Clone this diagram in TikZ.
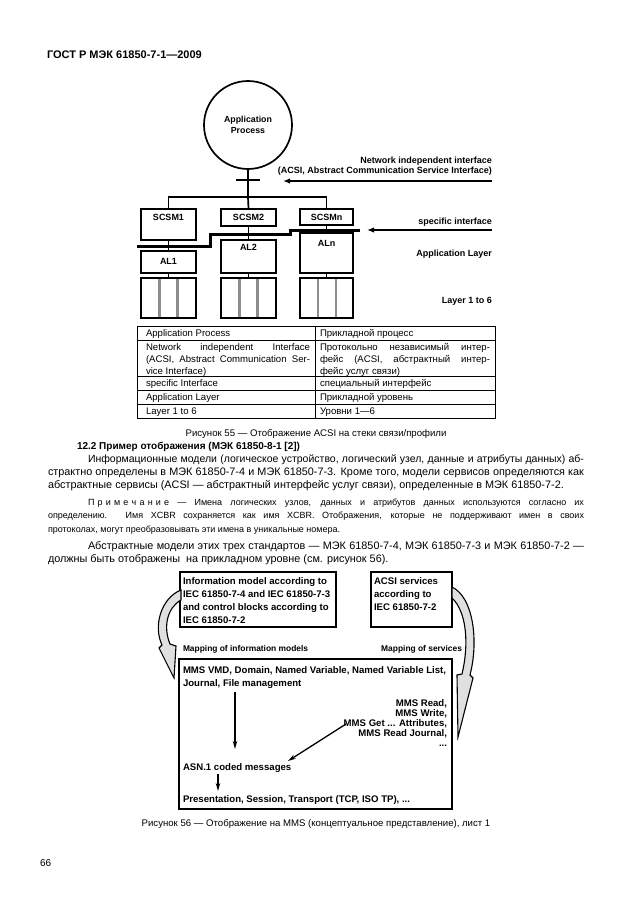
\documentclass[tikz,border=0pt]{standalone}
\usepackage{fontspec}
\setmainfont{Liberation Sans}
\usetikzlibrary{arrows.meta}
\newcommand{\fs}[2]{\fontsize{#1}{#2}\selectfont}
\begin{document}
\begin{tikzpicture}[x=1pt,y=-1pt,
  every node/.style={inner sep=0pt,outer sep=0pt},
  bx/.style={draw,line width=1.7pt,anchor=north west},
  lab/.style={font=\bfseries\fs{9}{10},anchor=base},
  rlab/.style={font=\bfseries\fs{9}{10},anchor=base east},
  ln/.style={line width=1.7pt},
  gl/.style={line width=2.6pt,draw=black!45},
  arr/.style={line width=1.6pt,-{Latex[length=7pt,width=5.5pt]}},
  body/.style={font=\fs{10.85}{13},anchor=base west},
  note/.style={font=\fs{9}{11},anchor=base west},
  tab/.style={font=\fs{9.6}{12},anchor=base west},
  tline/.style={line width=0.6pt},
  captxt/.style={font=\fs{9.6}{12},anchor=base},
  ft/.style={font=\bfseries\fs{9.6}{13},anchor=base west},
  ftr/.style={font=\bfseries\fs{9.6}{13},anchor=base east},
  arr2/.style={line width=1.3pt,-{Stealth[length=8pt,width=4.5pt]}},
  barrow/.style={draw,line width=1.1pt,fill=black!12}
]
\fill[white] (0,0) rectangle (630,913);
\useasboundingbox (0,0) rectangle (630,913);

% header
\node[anchor=base west,font=\bfseries\fs{11}{13}] (hdr) at (47,58.5) {ГОСТ Р МЭК 61850-7-1—2009};

% ---------- Figure 55 ----------
\node[circle,draw,line width=1.7pt,minimum size=88pt,font=\bfseries\fs{8.8}{10.5},align=center] (ap) at (248,125) {Application\\Process};
\coordinate (bus) at (248,197);
\draw[ln] (ap.south) -- (bus);
\draw[line width=2pt] (236,180) -- (260,180);

\node[bx,minimum width=55pt,minimum height=31pt] (s1) at (141,209) {};
\node[bx,minimum width=55pt,minimum height=17pt] (s2) at (221,209) {};
\node[bx,minimum width=53pt,minimum height=16pt] (sn) at (300,209) {};
\node[bx,minimum width=55pt,minimum height=22pt] (a1) at (141,251) {};
\node[bx,minimum width=55pt,minimum height=33pt] (a2) at (221,240) {};
\node[bx,minimum width=53pt,minimum height=40pt] (an) at (300,233) {};
\node[bx,minimum width=55pt,minimum height=40pt] (l1) at (141,278) {};
\node[bx,minimum width=55pt,minimum height=40pt] (l2) at (221,278) {};
\node[bx,minimum width=53pt,minimum height=40pt] (l3) at (300,278) {};

\draw[gl] (159.5,279) -- (159.5,317);
\draw[gl] (177.5,279) -- (177.5,317);
\draw[gl] (239.5,279) -- (239.5,317);
\draw[gl] (257.5,279) -- (257.5,317);
\draw[gl] (318,279) -- (318,317);
\draw[gl] (336,279) -- (336,317);

\draw[ln] (s1.north) |- (bus) -| (sn.north);
\draw[ln] (bus) -- (s2.north);
\draw[ln] (s1.south) -- (a1.north);
\draw[ln] (s2.south) -- (a2.north);
\draw[ln] (sn.south) -- (an.north);
\draw[ln] (a1.south) -- (l1.north);
\draw[ln] (a2.south) -- (l2.north);
\draw[ln] (an.south) -- (l3.north);

\draw[line width=3pt] (137,246) -- (210,246) -- (210,234) -- (290,234) -- (290,230) -- (360,230);

\node[lab] (s1t) at (s1.north |- 0,220) {SCSM1};
\node[lab] (s2t) at (s2.north |- 0,220) {SCSM2};
\node[lab] (snt) at (sn.north |- 0,220) {SCSMn};
\node[lab] (a1t) at (a1.north |- 0,264) {AL1};
\node[lab] (a2t) at (a2.north |- 0,250.5) {AL2};
\node[lab] (ant) at (an.north |- 0,246.5) {ALn};

\node[rlab] (nit1) at (492,163.3) {Network independent interface};
\node[rlab] (nit2) at (492,173.3) {(ACSI, Abstract Communication Service Interface)};
\coordinate (nia) at (492,181);
\coordinate (nib) at (283,181);
\draw[arr] (nia) -- (nib);

\node[rlab] (spt) at (492,224) {specific interface};
\coordinate (spa) at (492,230);
\coordinate (spb) at (367,230);
\draw[arr] (spa) -- (spb);

\node[rlab] (alt) at (492,256.5) {Application Layer};
\node[rlab] (l16) at (492,303.5) {Layer 1 to 6};

% table
\draw[tline] (137,326) rectangle (495,418);
\draw[tline] (137,340) -- (495,340);
\draw[tline] (137,376) -- (495,376);
\draw[tline] (137,390) -- (495,390);
\draw[tline] (137,404) -- (495,404);
\draw[tline] (315,326) -- (315,418);

\node[tab] (t11) at (146,336) {Application Process};
\node[tab] (t12) at (320,336) {Прикладной процесс};
\node[tab] (t21) at (146,350.5) {\makebox[164pt][s]{Network independent Interface}};
\node[tab] (t22) at (146,362.5) {\makebox[164pt][s]{(ACSI, Abstract Communication Ser-}};
\node[tab] (t23) at (146,374.5) {vice Interface)};
\node[tab] (t24) at (320,350.5) {\makebox[170pt][s]{Протокольно независимый интер-}};
\node[tab] (t25) at (320,362.5) {\makebox[170pt][s]{фейс (ACSI, абстрактный интер-}};
\node[tab] (t26) at (320,374.5) {фейс услуг связи)};
\node[tab] (t31) at (146,386.5) {specific Interface};
\node[tab] (t32) at (320,386.5) {специальный интерфейс};
\node[tab] (t41) at (146,400.5) {Application Layer};
\node[tab] (t42) at (320,400.5) {Прикладной уровень};
\node[tab] (t51) at (146,414.5) {Layer 1 to 6};
\node[tab] (t52) at (320,414.5) {Уровни 1—6};

\node[captxt] (cap55) at (316,436.5) {Рисунок 55 — Отображение ACSI на стеки связи/профили};

% ---------- text ----------
\node[anchor=base west,font=\bfseries\fs{10}{13}] (h122) at (77,449.5) {12.2 Пример отображения (МЭК 61850-8-1 [2])};
\node[body,font=\fs{10.5}{13}] (p1) at (88,462) {\makebox[496pt][s]{Информационные модели (логическое устройство, логический узел, данные и атрибуты данных) аб-}};
\node[body] (p2) at (48,475.3) {\makebox[536pt][s]{страктно определены в МЭК 61850-7-4 и МЭК 61850-7-3. Кроме того, модели сервисов определяются как}};
\node[body] (p3) at (48,488.6) {абстрактные сервисы (ACSI — абстрактный интерфейс услуг связи), определенные в МЭК 61850-7-2.};

\node[note] (n1) at (88,505.5) {\makebox[496pt][s]{П\kern3.2ptр\kern3.2ptи\kern3.2ptм\kern3.2ptе\kern3.2ptч\kern3.2ptа\kern3.2ptн\kern3.2ptи\kern3.2ptе — Имена логических узлов, данных и атрибутов данных используются согласно их}};
\node[note] (n2) at (48,518.8) {\makebox[536pt][s]{определению. Имя XCBR сохраняется как имя XCBR. Отображения, которые не поддерживают имен в своих}};
\node[note] (n3) at (48,532) {протоколах, могут преобразовывать эти имена в уникальные номера.};

\node[body] (q1) at (88,549.5) {\makebox[496pt][s]{Абстрактные модели этих трех стандартов — МЭК 61850-7-4, МЭК 61850-7-3 и МЭК 61850-7-2 —}};
\node[body] (q2) at (48,562.5) {должны быть отображены\ \ на прикладном уровне (см. рисунок 56).};

% ---------- Figure 56 ----------
\node[bx,line width=1.8pt,minimum width=156pt,minimum height=55pt] (ba) at (180,572) {};
\node[bx,line width=1.8pt,minimum width=81pt,minimum height=55pt] (bb) at (371,572) {};
\node[bx,line width=1.8pt,minimum width=273pt,minimum height=150pt] (bm) at (179,659) {};

\node[ft] (ba1) at (183,584.5) {Information model according to};
\node[ft] (ba2) at (183,597.5) {IEC 61850-7-4 and IEC 61850-7-3};
\node[ft] (ba3) at (183,610.5) {and control blocks according to};
\node[ft] (ba4) at (183,623) {IEC 61850-7-2};
\node[ft] (bb1) at (374,584.5) {ACSI services};
\node[ft] (bb2) at (374,597.5) {according to};
\node[ft] (bb3) at (374,610.5) {IEC 61850-7-2};

\node[anchor=base west,font=\bfseries\fs{8.4}{10}] (mi) at (183,651) {Mapping of information models};
\node[anchor=base east,font=\bfseries\fs{8.4}{10}] (ms) at (462,651) {Mapping of services};

\node[ft] (m1) at (183,673) {MMS VMD, Domain, Named Variable, Named Variable List,};
\node[ft] (m2) at (183,686) {Journal, File management};
\node[ftr] (r1) at (447,706.5) {MMS Read,};
\node[ftr] (r2) at (447,716.5) {MMS Write,};
\node[ftr] (r3) at (447,726.5) {MMS Get ... Attributes,};
\node[ftr] (r4) at (447,736.5) {MMS Read Journal,};
\node[ftr] (r5) at (447,746.5) {...};
\node[ft] (asn) at (183,770.5) {ASN.1 coded messages};
\node[ft] (pst) at (183,802) {Presentation, Session, Transport (TCP, ISO TP), ...};

\coordinate (v1a) at (235,692);
\coordinate (v1b) at (235,749);
\draw[arr2] (v1a) -- (v1b);
\coordinate (d1a) at (346,724);
\coordinate (d1b) at (288,761);
\draw[arr2] (d1a) -- (d1b);
\coordinate (v2a) at (218,774);
\coordinate (v2b) at (218,791);
\draw[arr2] (v2a) -- (v2b);

% curved block arrows
\draw[barrow] (181,590) .. controls (161,598) and (153,626) .. (162,645) -- (159,648) -- (174,678) -- (176,646) -- (170,644) .. controls (163,627) and (167,608) .. (181,600) -- cycle;
\draw[barrow] (452,587) .. controls (473,597) and (479,640) .. (470,675) -- (473,678) -- (458,737) -- (457,675) -- (462,674) .. controls (469,645) and (467,612) .. (452,598) -- cycle;

\node[captxt] (cap56) at (316,826.5) {Рисунок 56 — Отображение на MMS (концептуальное представление), лист 1};
\node[anchor=base west,font=\fs{10}{12}] (pg) at (40,866) {66};
\end{tikzpicture}
\end{document}
